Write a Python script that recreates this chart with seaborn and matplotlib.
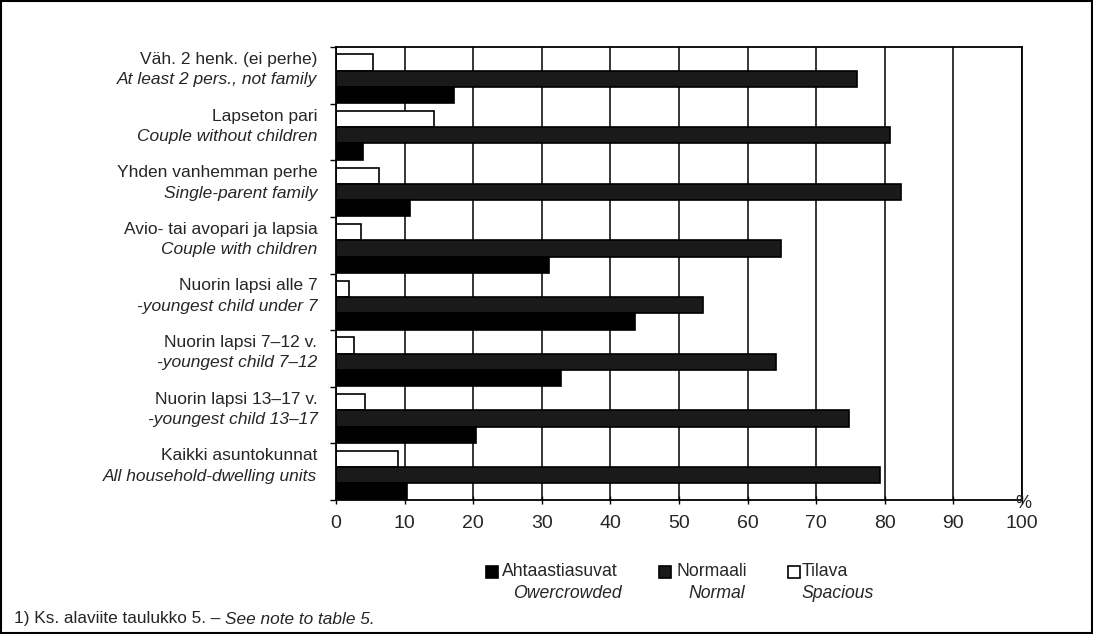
import matplotlib
matplotlib.use('Agg')
import matplotlib.pyplot as plt
import matplotlib.transforms as mtransforms
from matplotlib.patches import Rectangle
import seaborn as sns
import pandas as pd
import numpy as np

# ---- data ----
cats_fi = ["Väh. 2 henk. (ei perhe)", "Lapseton pari", "Yhden vanhemman perhe",
           "Avio- tai avopari ja lapsia", "Nuorin lapsi alle 7", "Nuorin lapsi 7–12 v.",
           "Nuorin lapsi 13–17 v.", "Kaikki asuntokunnat"]
cats_en = ["At least 2 pers., not family", "Couple without children", "Single-parent family",
           "Couple with children", "-youngest child under 7", "-youngest child 7–12",
           "-youngest child 13–17", "All household-dwelling units"]
overcrowded = [17.2, 4.0, 10.8, 31.0, 43.6, 32.8, 20.4, 10.3]
normal = [76.0, 80.8, 82.3, 64.9, 53.5, 64.1, 74.8, 79.3]
spacious = [5.4, 14.3, 6.2, 3.6, 1.9, 2.6, 4.3, 9.1]
series_fi = ["Ahtaastiasuvat", "Normaali", "Tilava"]
series_en = ["Owercrowded", "Normal", "Spacious"]
x_ticks = [0, 10, 20, 30, 40, 50, 60, 70, 80, 90, 100]
footnote_fi = "1) Ks. alaviite taulukko 5. – "
footnote_en = "See note to table 5."

sns.set_theme(style="white")
plt.rcParams['font.family'] = ['Liberation Sans', 'DejaVu Sans']
narrow = ['Liberation Sans Narrow', 'Liberation Sans', 'DejaVu Sans']

df = pd.DataFrame({
    "cat": cats_fi * 3,
    "series": [series_fi[0]] * 8 + [series_fi[1]] * 8 + [series_fi[2]] * 8,
    "value": overcrowded + normal + spacious,
})
colors = {"Ahtaastiasuvat": "black", "Normaali": "#1a1a1a", "Tilava": "white"}

W, H = 1093, 634
fig = plt.figure(figsize=(W / 100, H / 100), dpi=100)
ax = fig.add_axes([336 / W, 1 - 500 / H, (1022 - 336) / W, (500 - 47) / H])

sns.barplot(data=df, y="cat", x="value", hue="series", order=cats_fi,
            hue_order=["Tilava", "Normaali", "Ahtaastiasuvat"], palette=colors,
            orient="h", width=0.86, edgecolor="black", linewidth=1.2,
            saturation=1, legend=False, ax=ax)

shift = 0.06
ax.set_xlim(0, 100)
ax.set_ylim(7.5 - shift, -0.5 - shift)
ax.set_xticks(x_ticks)
ax.set_xticklabels([str(t) for t in x_ticks], fontsize=14, family=narrow)
ax.set_xlabel("")
ax.set_ylabel("")
ax.set_yticks([])
ax.set_yticks(np.arange(-0.5, 8, 1) - shift, minor=True)
ax.tick_params(axis='y', which='minor', left=True, length=4, width=1, direction='out', color='black')
ax.tick_params(axis='x', which='major', bottom=True, length=6, width=1, direction='inout', color='black', pad=8)
ax.xaxis.grid(True, color='black', linewidth=1.1)
ax.set_axisbelow(True)
for s in ax.spines.values():
    s.set_color('black')
    s.set_linewidth(1.3)

trans = mtransforms.blended_transform_factory(ax.transAxes, ax.transData)
for i, (fi, en) in enumerate(zip(cats_fi, cats_en)):
    ax.text(-0.027, i - 0.34, fi, transform=trans, ha='right', va='center', fontsize=12.5)
    ax.text(-0.027, i + 0.02, en, transform=trans, ha='right', va='center', fontsize=12.5, style='italic')

# percent sign
fig.text(1023 / W, 1 - 504 / H, "%", ha='center', va='center', fontsize=13, family=narrow)

# legend (manual, two-line labels)
leg_sq_x = [486, 659, 788]
leg_txt_x = [502, 676, 802]
leg_txt2_x = [513, 688, 802]
leg_face = ["black", "#1a1a1a", "white"]
for k in range(3):
    fig.patches.append(Rectangle((leg_sq_x[k] / W, 1 - 578 / H), 12 / W, 12 / H,
                                 transform=fig.transFigure, facecolor=leg_face[k],
                                 edgecolor='black', linewidth=1.2))
    fig.text(leg_txt_x[k] / W, 1 - 572 / H, series_fi[k], ha='left', va='center', fontsize=12.7)
    fig.text(leg_txt2_x[k] / W, 1 - 594 / H, series_en[k], ha='left', va='center', fontsize=12.7, style='italic')

# footnote
t1 = fig.text(14 / W, 1 - 619 / H, footnote_fi, ha='left', va='center', fontsize=12.4)
fig.canvas.draw()
bb = t1.get_window_extent()
fig.text(bb.x1 / W, 1 - 619 / H, footnote_en, ha='left', va='center', fontsize=12.4, style='italic')

# figure frame
fig.patches.append(Rectangle((1 / W, 1 / H), (W - 2) / W, (H - 2) / H, transform=fig.transFigure,
                             fill=False, edgecolor='black', linewidth=1.5))

fig.savefig("out.png", dpi=100)
